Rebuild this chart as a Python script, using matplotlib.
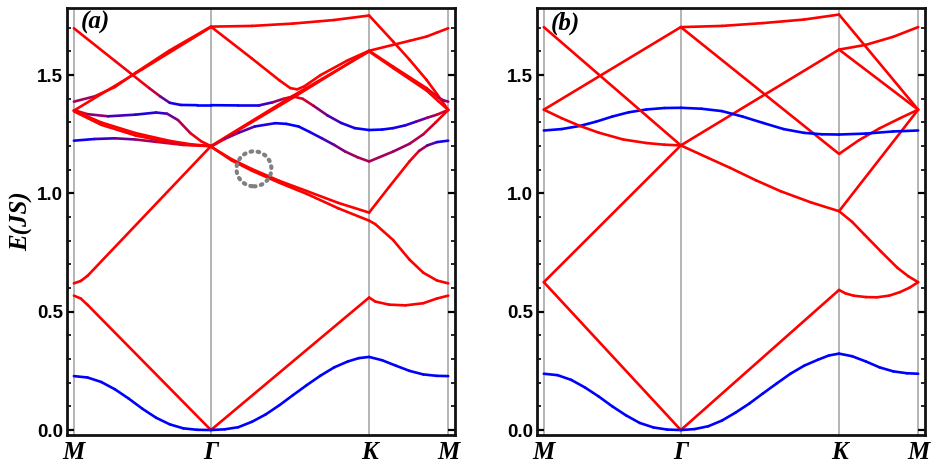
import numpy as np
import matplotlib
matplotlib.use('Agg')
import matplotlib.pyplot as plt
from matplotlib.collections import LineCollection
from matplotlib.patches import Ellipse

# high symmetry points along M - Gamma - K - M
path_k = [0.0, 1.0, 2.1547, 2.732]
path_labels = ['M', 'Γ', 'K', 'M']
y_ticks = [0.0, 0.5, 1.0, 1.5]

# each band: (k values, energies, red->blue mix)   0 = red, 1 = blue
# ---- panel (a) ----
# M -> Gamma
a_mg_1 = ([0, 0.30, 0.55, 0.63, 0.70, 0.78, 0.9, 1.0],
          [1.698, 1.56, 1.445, 1.41, 1.383, 1.374, 1.373, 1.373],
          [0, 0, 0.1, 0.4, 0.8, 1, 1, 1])
a_mg_2 = ([0, 0.15, 0.3, 0.45, 0.7, 1.0],
          [1.388, 1.41, 1.45, 1.51, 1.605, 1.705],
          [0.5, 0.2, 0, 0, 0, 0])
a_mg_3 = ([0, 0.5, 1.0], [1.350, 1.525, 1.703], 0)
a_mg_4 = ([0, 0.1, 0.25, 0.45, 0.6, 0.68, 0.76, 0.85, 0.93, 1.0],
          [1.352, 1.335, 1.326, 1.333, 1.342, 1.337, 1.31, 1.255, 1.22, 1.2],
          [0, 0.3, 0.6, 0.85, 0.9, 0.7, 0.4, 0.15, 0, 0])
a_mg_5 = ([0, 0.2, 0.45, 0.7, 0.85, 1.0], [1.350, 1.30, 1.255, 1.222, 1.208, 1.200], 0)
a_mg_6 = ([0, 0.2, 0.45, 0.7, 0.85, 1.0], [1.347, 1.29, 1.245, 1.215, 1.205, 1.200], 0)
a_mg_7 = ([0, 0.15, 0.3, 0.45, 0.6, 0.8, 1.0],
          [1.223, 1.230, 1.233, 1.228, 1.218, 1.205, 1.2],
          [1, 0.9, 0.7, 0.45, 0.25, 0.05, 0])
a_mg_8 = ([0, 0.05, 0.1, 1.0], [0.620, 0.630, 0.652, 1.2], 0)
a_mg_9 = ([0, 0.05, 0.1, 1.0], [0.568, 0.556, 0.529, 0.0], 0)
a_mg_10 = ([0, 0.1, 0.2, 0.3, 0.4, 0.5, 0.6, 0.7, 0.8, 0.9, 1.0],
           [0.228, 0.222, 0.203, 0.172, 0.133, 0.090, 0.052, 0.024, 0.007, 0.001, 0.0], 1)
# Gamma -> K
a_gk_1 = ([1.0, 1.3, 1.6, 1.9, 2.1547], [1.705, 1.708, 1.718, 1.733, 1.752], 0)
a_gk_2 = ([1.0, 1.3, 1.5, 1.58, 1.63, 1.68, 1.8, 2.0, 2.1547],
          [1.705, 1.57, 1.478, 1.445, 1.44, 1.452, 1.50, 1.563, 1.603], 0)
a_gk_3 = ([1.0, 1.6, 2.1547], [1.198, 1.405, 1.603], 0)
a_gk_4 = ([1.0, 1.6, 2.1547], [1.200, 1.413, 1.600], 0)
a_gk_5 = ([1.0, 1.2, 1.35, 1.45, 1.53, 1.6, 1.67, 1.75, 1.85, 1.95, 2.05, 2.1547],
          [1.373, 1.372, 1.372, 1.385, 1.40, 1.41, 1.40, 1.37, 1.33, 1.298, 1.276, 1.268],
          [1, 1, 0.9, 0.6, 0.2, 0, 0.1, 0.35, 0.6, 0.8, 0.95, 1])
a_gk_6 = ([1.0, 1.1, 1.2, 1.32, 1.47, 1.55, 1.64, 1.72, 1.81, 1.9, 1.98, 2.07, 2.1547],
          [1.198, 1.23, 1.256, 1.283, 1.297, 1.294, 1.283, 1.26, 1.233, 1.205, 1.177, 1.153, 1.135],
          [0, 0.2, 0.5, 0.8, 0.95, 1, 1, 0.95, 0.8, 0.6, 0.45, 0.35, 0.3])
a_gk_7 = ([1.0, 1.15, 1.3, 1.5, 1.7, 1.93, 2.1547], [1.198, 1.145, 1.103, 1.053, 1.01, 0.96, 0.919], 0)
a_gk_8 = ([1.0, 1.15, 1.3, 1.5, 1.7, 1.93, 2.1547], [1.198, 1.14, 1.096, 1.045, 0.998, 0.937, 0.885], 0)
a_gk_9 = ([1.0, 2.1547], [0.0, 0.560], 0)
a_gk_10 = ([1.0, 1.1, 1.2, 1.3, 1.4, 1.5, 1.6, 1.7, 1.8, 1.9, 2.0, 2.08, 2.1547],
           [0.0, 0.003, 0.012, 0.035, 0.066, 0.105, 0.148, 0.190, 0.230, 0.265, 0.290, 0.304, 0.309], 1)
# K -> M
a_km_1 = ([2.1547, 2.33, 2.45, 2.574, 2.65, 2.732], [1.752, 1.642, 1.565, 1.48, 1.42, 1.353], 0)
a_km_2 = ([2.1547, 2.33, 2.45, 2.574, 2.65, 2.732], [1.603, 1.628, 1.645, 1.663, 1.68, 1.698], 0)
a_km_3 = ([2.1547, 2.33, 2.574, 2.66, 2.70, 2.732], [1.603, 1.536, 1.445, 1.405, 1.393, 1.388],
          [0, 0, 0, 0.2, 0.4, 0.5])
a_km_4 = ([2.1547, 2.33, 2.574, 2.66, 2.732], [1.600, 1.530, 1.435, 1.39, 1.353], 0)
a_km_5 = ([2.1547, 2.25, 2.33, 2.42, 2.5, 2.58, 2.65, 2.732],
          [1.268, 1.27, 1.276, 1.288, 1.304, 1.32, 1.333, 1.353],
          [1, 1, 0.95, 0.85, 0.7, 0.5, 0.3, 0.05])
a_km_6 = ([2.1547, 2.33, 2.45, 2.55, 2.64, 2.732], [1.135, 1.177, 1.21, 1.25, 1.30, 1.353],
          [0.3, 0.4, 0.4, 0.25, 0.1, 0])
a_km_7 = ([2.1547, 2.3, 2.45, 2.52, 2.58, 2.65, 2.732], [0.919, 1.027, 1.136, 1.180, 1.203, 1.217, 1.223],
          [0, 0, 0, 0.2, 0.5, 0.8, 1])
a_km_8 = ([2.1547, 2.2, 2.33, 2.45, 2.55, 2.65, 2.732], [0.885, 0.87, 0.803, 0.72, 0.665, 0.632, 0.620], 0)
a_km_9 = ([2.1547, 2.2, 2.3, 2.42, 2.55, 2.65, 2.732], [0.560, 0.543, 0.530, 0.527, 0.536, 0.556, 0.568], 0)
a_km_10 = ([2.1547, 2.25, 2.35, 2.45, 2.55, 2.65, 2.732], [0.309, 0.295, 0.272, 0.250, 0.235, 0.229, 0.228], 1)

bands_a = [a_mg_1, a_mg_2, a_mg_3, a_mg_4, a_mg_5, a_mg_6, a_mg_7, a_mg_8, a_mg_9, a_mg_10,
           a_gk_1, a_gk_2, a_gk_3, a_gk_4, a_gk_5, a_gk_6, a_gk_7, a_gk_8, a_gk_9, a_gk_10,
           a_km_1, a_km_2, a_km_3, a_km_4, a_km_5, a_km_6, a_km_7, a_km_8, a_km_9, a_km_10]

# ---- panel (b) ----
b_mg_1 = ([0, 0.13, 0.26, 0.38, 0.5, 0.62, 0.75, 0.88, 1.0],
          [1.266, 1.272, 1.285, 1.303, 1.325, 1.343, 1.355, 1.361, 1.362], 1)
b_mg_2 = ([0, 1.0], [1.354, 1.703], 0)
b_mg_3 = ([0, 0.13, 0.26, 0.4, 0.58, 0.75, 0.88, 1.0],
          [1.354, 1.318, 1.286, 1.257, 1.228, 1.213, 1.206, 1.203], 0)
b_mg_4 = ([0, 1.0], [1.703, 1.203], 0)
b_mg_5 = ([0, 1.0], [0.625, 1.203], 0)
b_mg_6 = ([0, 1.0], [0.625, 0.0], 0)
b_mg_7 = ([0, 0.1, 0.2, 0.3, 0.4, 0.5, 0.6, 0.7, 0.8, 0.9, 1.0],
          [0.238, 0.232, 0.212, 0.180, 0.142, 0.100, 0.062, 0.030, 0.011, 0.002, 0.0], 1)
b_gk_1 = ([1.0, 1.3, 1.6, 1.9, 2.1547], [1.703, 1.708, 1.72, 1.735, 1.756], 0)
b_gk_2 = ([1.0, 2.1547], [1.703, 1.167], 0)
b_gk_3 = ([1.0, 2.1547], [1.203, 1.608], 0)
b_gk_4 = ([1.0, 1.15, 1.3, 1.45, 1.6, 1.75, 1.9, 2.03, 2.1547],
          [1.362, 1.358, 1.348, 1.325, 1.298, 1.272, 1.256, 1.250, 1.249], 1)
b_gk_5 = ([1.0, 1.2, 1.36, 1.55, 1.73, 1.95, 2.1547], [1.203, 1.15, 1.108, 1.055, 1.009, 0.962, 0.925], 0)
b_gk_6 = ([1.0, 2.1547], [0.0, 0.592], 0)
b_gk_7 = ([1.0, 1.1, 1.2, 1.3, 1.4, 1.5, 1.6, 1.7, 1.8, 1.9, 2.0, 2.08, 2.1547],
          [0.0, 0.004, 0.016, 0.040, 0.074, 0.112, 0.155, 0.197, 0.238, 0.272, 0.297, 0.315, 0.323], 1)
b_km_1 = ([2.1547, 2.732], [1.756, 1.354], 0)
b_km_2 = ([2.1547, 2.35, 2.55, 2.732], [1.608, 1.628, 1.662, 1.703], 0)
b_km_3 = ([2.1547, 2.732], [1.608, 1.354], 0)
b_km_4 = ([2.1547, 2.3, 2.45, 2.6, 2.732], [1.167, 1.225, 1.275, 1.318, 1.354], 0)
b_km_5 = ([2.1547, 2.732], [0.925, 1.354], 0)
b_km_6 = ([2.1547, 2.35, 2.55, 2.732], [1.249, 1.253, 1.262, 1.266], 1)
b_km_7 = ([2.1547, 2.25, 2.34, 2.46, 2.58, 2.66, 2.732], [0.925, 0.88, 0.826, 0.755, 0.686, 0.65, 0.625], 0)
b_km_8 = ([2.1547, 2.2, 2.26, 2.35, 2.43, 2.52, 2.6, 2.67, 2.732],
          [0.592, 0.578, 0.568, 0.562, 0.561, 0.568, 0.583, 0.602, 0.625], 0)
b_km_9 = ([2.1547, 2.25, 2.35, 2.45, 2.55, 2.65, 2.732], [0.323, 0.312, 0.29, 0.265, 0.248, 0.24, 0.238], 1)

bands_b = [b_mg_1, b_mg_2, b_mg_3, b_mg_4, b_mg_5, b_mg_6, b_mg_7,
           b_gk_1, b_gk_2, b_gk_3, b_gk_4, b_gk_5, b_gk_6, b_gk_7,
           b_km_1, b_km_2, b_km_3, b_km_4, b_km_5, b_km_6, b_km_7, b_km_8, b_km_9]

RED = np.array([1.0, 0.0, 0.0])
BLUE = np.array([0.0, 0.0, 1.0])


def draw_band(ax, band):
    k, e, mix = band
    pts = np.column_stack([k, e])
    segs = np.stack([pts[:-1], pts[1:]], axis=1)
    m = np.broadcast_to(np.asarray(mix, dtype=float), (len(k),))
    mm = 0.5 * (m[:-1] + m[1:])
    cols = [tuple((1 - v) * RED + v * BLUE) for v in mm]
    lc = LineCollection(segs, colors=cols, linewidths=1.9, capstyle='round', joinstyle='round', zorder=3)
    ax.add_collection(lc)


def setup_axes(ax, label):
    for kk in path_k:
        ax.axvline(kk, color='#a8a8a8', lw=1.2, zorder=1)
    ax.set_xlim(-0.05, 2.782)
    ax.set_ylim(-0.021, 1.784)
    ax.set_xticks(path_k)
    ax.set_xticklabels(path_labels, family='Liberation Serif', fontstyle='italic',
                       fontweight='bold', fontsize=18)
    ax.tick_params(axis='x', length=0, pad=4)
    ax.set_yticks(y_ticks)
    ax.set_yticks(np.arange(0, 1.75, 0.1), minor=True)
    ax.set_yticklabels(['%.1f' % v for v in y_ticks], fontweight='bold', fontsize=13.5,
                       family='Liberation Sans')
    ax.tick_params(axis='y', which='both', direction='in', left=True, right=True, pad=3)
    ax.tick_params(axis='y', which='major', length=5, width=1.6)
    ax.tick_params(axis='y', which='minor', length=3, width=1.2)
    for sp in ax.spines.values():
        sp.set_linewidth(2.0)
        sp.set_color('#111111')
    ax.text(0.035, 0.992, label, transform=ax.transAxes, ha='left', va='top',
            family='Liberation Serif', fontstyle='italic', fontweight='bold', fontsize=18)


fig = plt.figure(figsize=(9.35, 4.67), dpi=100)
ax_a = fig.add_axes([0.0717, 0.0685, 0.415, 0.9145])
ax_b = fig.add_axes([0.5743, 0.0685, 0.415, 0.9145])

setup_axes(ax_a, '(a)')
setup_axes(ax_b, '(b)')

for band in bands_a:
    draw_band(ax_a, band)
for band in bands_b:
    draw_band(ax_b, band)

# dotted circle marking the near-degenerate region in (a)
circ = Ellipse((1.314, 1.104), 0.255, 0.148, fill=False, edgecolor='#808080',
               lw=3.0, linestyle=(0, (0.4, 1.3)), zorder=4)
circ.set_capstyle('round')
ax_a.add_patch(circ)

ax_a.set_ylabel('E(JS)', family='Liberation Serif', fontstyle='italic', fontweight='bold',
                fontsize=18, labelpad=3)

fig.savefig('out.png', dpi=100)
